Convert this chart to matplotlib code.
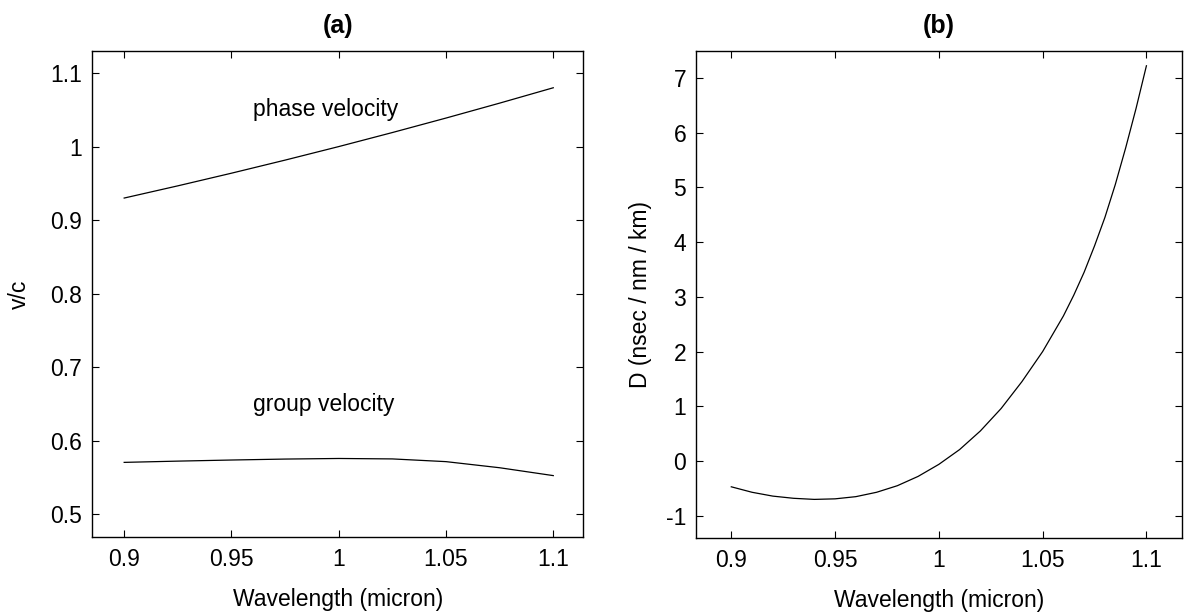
import matplotlib
matplotlib.use("Agg")
import matplotlib.pyplot as plt

# ---- data ----
wl_a = [0.900, 0.925, 0.950, 0.975, 1.000, 1.025, 1.050, 1.075, 1.100]
phase_velocity = [0.930, 0.9466, 0.9638, 0.9816, 1.000, 1.0191, 1.0388, 1.0591, 1.080]
group_velocity = [0.5705, 0.5722, 0.5737, 0.5750, 0.5758, 0.5752, 0.5715, 0.5632, 0.5525]

wl_b = [0.90, 0.91, 0.92, 0.93, 0.94, 0.95, 0.96, 0.97, 0.98, 0.99, 1.00,
        1.01, 1.02, 1.03, 1.04, 1.05, 1.06, 1.065, 1.07, 1.075, 1.08,
        1.085, 1.09, 1.095, 1.10]
dispersion = [-0.47, -0.57, -0.64, -0.68, -0.70, -0.69, -0.65, -0.57, -0.45, -0.28, -0.06,
              0.21, 0.55, 0.96, 1.45, 2.00, 2.65, 3.03, 3.45, 3.93, 4.45,
              5.05, 5.72, 6.44, 7.22]

xticks = [0.9, 0.95, 1.0, 1.05, 1.1]
xticklabels = ["0.9", "0.95", "1", "1.05", "1.1"]
yticks_a = [0.5, 0.6, 0.7, 0.8, 0.9, 1.0, 1.1]
yticklabels_a = ["0.5", "0.6", "0.7", "0.8", "0.9", "1", "1.1"]
yticks_b = [-1, 0, 1, 2, 3, 4, 5, 6, 7]
yticklabels_b = ["-1", "0", "1", "2", "3", "4", "5", "6", "7"]

plt.rcParams['font.family'] = ['Liberation Sans', 'DejaVu Sans']
FS = 16.5

W, H = 1188, 614
fig = plt.figure(figsize=(W / 100, H / 100), dpi=100)

def px_axes(x0, x1, ytop, ybot):
    return fig.add_axes([x0 / W, 1 - ybot / H, (x1 - x0) / W, (ybot - ytop) / H])

ax1 = px_axes(92, 583.3, 51, 537)
ax2 = px_axes(696, 1181.7, 51, 537.5)

for ax in (ax1, ax2):
    ax.tick_params(direction='in', top=True, right=True, length=5, width=0.8,
                   labelsize=FS, pad=8)
    ax.tick_params(axis='y', pad=7)
    for s in ax.spines.values():
        s.set_linewidth(1.0)
    ax.set_xticks(xticks)
    ax.set_xticklabels(xticklabels)
    ax.set_xlabel("Wavelength (micron)", fontsize=FS)
    ax.xaxis.set_label_coords(0.5, -0.105)

# (a)
ax1.plot(wl_a, phase_velocity, color='black', lw=0.9)
ax1.plot(wl_a, group_velocity, color='black', lw=0.9)
ax1.set_xlim(0.885, 1.114)
ax1.set_ylim(0.469, 1.130)
ax1.set_yticks(yticks_a)
ax1.set_yticklabels(yticklabels_a)
ax1.set_ylabel("v/c", fontsize=FS)
ax1.yaxis.set_label_coords(-0.124, 0.5)
ax1.text(0.994, 1.05, "phase velocity", fontsize=FS, ha='center', va='center')
ax1.text(0.993, 0.649, "group velocity", fontsize=FS, ha='center', va='center')
ax1.set_title("(a)", fontsize=18, fontweight='bold', pad=13)

# (b)
ax2.plot(wl_b, dispersion, color='black', lw=0.9)
ax2.set_xlim(0.883, 1.117)
ax2.set_ylim(-1.396, 7.49)
ax2.set_yticks(yticks_b)
ax2.set_yticklabels(yticklabels_b)
ax2.set_ylabel("D (nsec / nm / km)", fontsize=FS)
ax2.yaxis.set_label_coords(-0.0906, 0.5)
ax2.set_title("(b)", fontsize=18, fontweight='bold', pad=13)

fig.savefig("out.png", dpi=100)
